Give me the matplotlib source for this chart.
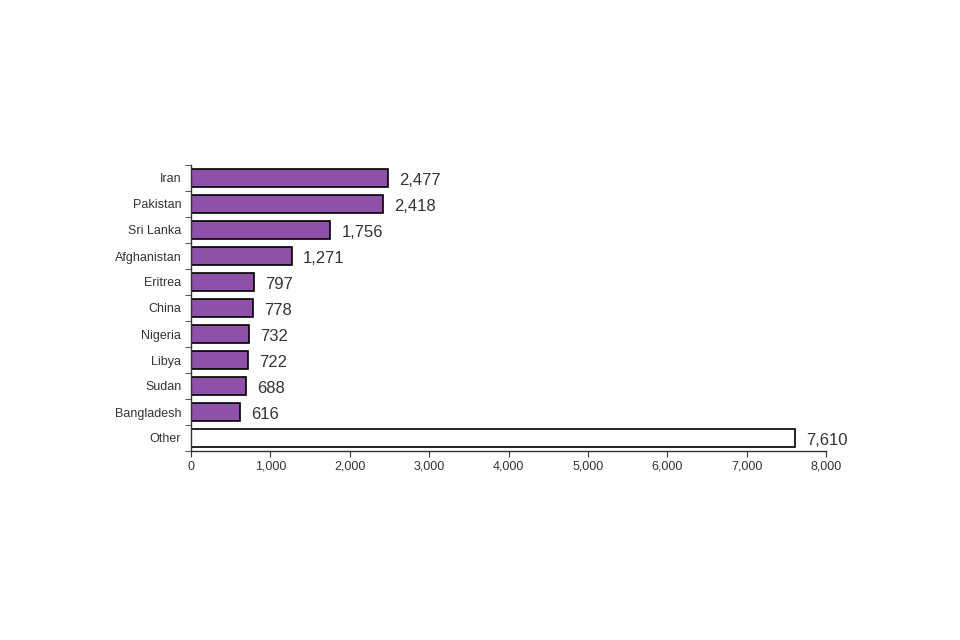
import matplotlib
matplotlib.use("Agg")
import matplotlib.pyplot as plt
import numpy as np
from matplotlib.ticker import FuncFormatter, FixedLocator

categories = ["Iran", "Pakistan", "Sri Lanka", "Afghanistan", "Eritrea", "China",
              "Nigeria", "Libya", "Sudan", "Bangladesh", "Other"]
values = [2477, 2418, 1756, 1271, 797, 778, 732, 722, 688, 616, 7610]
xticks = [0, 1000, 2000, 3000, 4000, 5000, 6000, 7000, 8000]

plt.rcParams['font.family'] = ['Liberation Sans', 'DejaVu Sans']

fig = plt.figure(figsize=(9.6, 6.4), dpi=100)
ax = fig.add_axes([191/960, 1-451/640, (826-191)/960, (451-165)/640])

n = len(categories)
ypos = np.arange(n)
colors = ['#8E50A9'] * (n - 1) + ['white']
ax.barh(ypos, values, height=0.68, color=colors, edgecolor='black', linewidth=1.2)

ax.set_ylim(n - 0.5, -0.5)
ax.set_xlim(0, 8000)
ax.set_yticks(ypos)
ax.set_yticklabels(categories)
ax.yaxis.set_minor_locator(FixedLocator(np.arange(-0.5, n, 1.0)))
ax.tick_params(axis='y', which='major', length=0, pad=7, labelsize=9, colors='#333333')
ax.tick_params(axis='y', which='minor', length=4, direction='out', color='#333333')
ax.set_xticks(xticks)
ax.xaxis.set_major_formatter(FuncFormatter(lambda v, p: f"{int(v):,}"))
ax.tick_params(axis='x', length=4, direction='out', labelsize=9, colors='#333333', pad=3)

for s in ['top', 'right']:
    ax.spines[s].set_visible(False)
for s in ['left', 'bottom']:
    ax.spines[s].set_color('#333333')
    ax.spines[s].set_linewidth(1.0)

for y, v in zip(ypos, values):
    ax.annotate(f"{v:,}", xy=(v, y), xytext=(8, -1.5), textcoords='offset points',
                va='center', ha='left', fontsize=12, color='#333333')

fig.savefig("out.png", dpi=100)
